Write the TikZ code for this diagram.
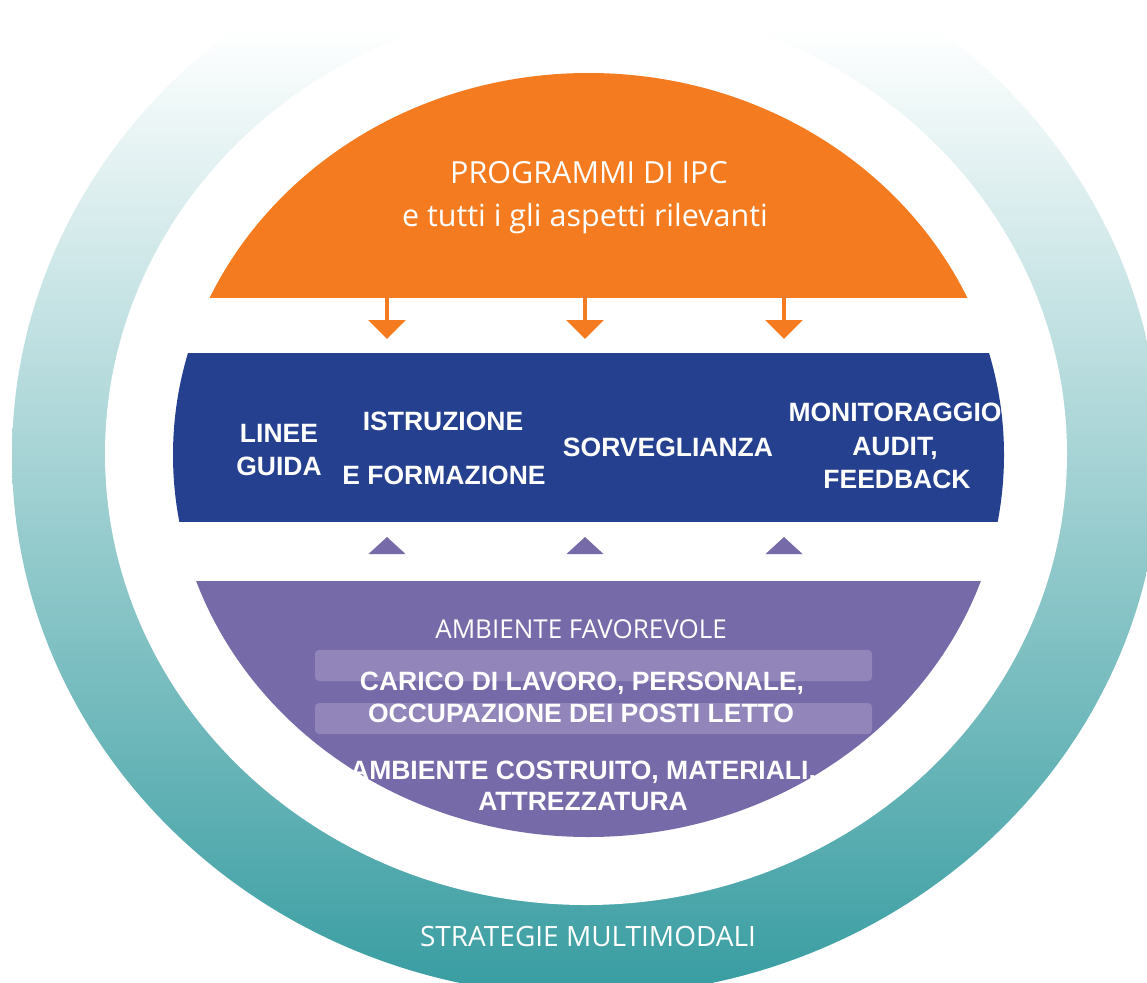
\documentclass[tikz,border=0pt]{standalone}
\usepackage{fontspec}
\usepackage{xcolor}
\usepackage{tikz}
\usetikzlibrary{arrows.meta}
\setmainfont{Open Sans}
\newfontfamily\arialfont{Liberation Sans}

\definecolor{ipcorange}{RGB}{244,123,32}
\definecolor{ipcblue}{RGB}{37,64,143}
\definecolor{ipcpurple}{RGB}{119,106,168}
\definecolor{ipcbar}{RGB}{145,133,186}
\definecolor{ipcteal}{RGB}{58,158,162}
\definecolor{ipctealmid}{RGB}{138,189,193}

\tikzset{
  thintext/.style={text=white, anchor=base, font=\fontsize{30.5}{36}\selectfont},
  boldtext/.style={text=white, anchor=base, font=\arialfont\bfseries\fontsize{26.5}{32}\selectfont},
  downarrow/.style={ipcorange, line width=4pt, -{Triangle[width=37pt,length=19pt]}},
}

\begin{document}
\begin{tikzpicture}[x=1pt,y=-1pt]
    \useasboundingbox (0,0) rectangle (1147,982);
    \clip (0,0) rectangle (1147,982);

    % Draw the outer ring, teal at the bottom and fading out at the top
    \begin{scope}
        \clip (586,456) ellipse [x radius=574, y radius=540];
        \shade[top color=white, middle color=ipctealmid, bottom color=ipcteal] (0,28) rectangle (1147,982);
    \end{scope}
    \fill[white] (586,454) ellipse [x radius=481, y radius=451];

    % Draw the orange cap
    \begin{scope}
        \clip (0,0) rectangle (1147,297);
        \fill[ipcorange] (588.5,455) ellipse [x radius=415.5, y radius=382];
    \end{scope}

    % Draw the blue band
    \begin{scope}
        \clip (0,353) rectangle (1147,521);
        \fill[ipcblue] (588.5,455) ellipse [x radius=415.5, y radius=382];
    \end{scope}

    % Draw the purple bottom with its two lighter bars
    \begin{scope}
        \clip (0,581) rectangle (1147,982);
        \fill[ipcpurple] (588.5,455) ellipse [x radius=415.5, y radius=382];
    \end{scope}
    \fill[ipcbar, rounded corners=4pt] (315,650) rectangle (872,681);
    \fill[ipcbar, rounded corners=4pt] (315,703) rectangle (872,734);

    % Arrows down from the orange cap and small triangles under the band
    \foreach \x [count=\i] in {387,585,784} {
        \coordinate (down\i) at (\x,296);
        \coordinate (tip\i) at (\x,339);
        \draw[downarrow] (down\i) -- (tip\i);
        \fill[ipcpurple] (\x,537) -- (\x+18.5,554) -- (\x-18.5,554) -- cycle;
    }

    % Texts of the orange cap
    \node[thintext] (prog) at (589,183) {PROGRAMMI DI IPC};
    \node[thintext] (aspetti) at (585,226) {e tutti i gli aspetti rilevanti};

    % Texts of the blue band
    \node[boldtext] (linee) at (279,442.5) {LINEE};
    \node[boldtext] (guida) at (279,475.5) {GUIDA};
    \node[boldtext] (istruz) at (443,430.5) {ISTRUZIONE};
    \node[boldtext] (formaz) at (444,484.5) {E FORMAZIONE};
    \node[boldtext] (sorv) at (668,456.5) {SORVEGLIANZA};
    \node[boldtext] (monit) at (895,421.5) {MONITORAGGIO};
    \node[boldtext] (audit) at (895,455.5) {AUDIT,};
    \node[boldtext] (feedb) at (897,488.5) {FEEDBACK};

    % Texts of the purple bottom
    \node[thintext, font=\fontsize{26}{32}\selectfont] (favor) at (581,638) {AMBIENTE FAVOREVOLE};
    \node[boldtext] (carico) at (582,690.5) {CARICO DI LAVORO, PERSONALE,};
    \node[boldtext] (occup) at (581,722.5) {OCCUPAZIONE DEI POSTI LETTO};
    \node[boldtext] (costr) at (583,779.5) {AMBIENTE COSTRUITO, MATERIALI,};
    \node[boldtext] (attrez) at (583,810.5) {ATTREZZATURA};

    % Text of the ring
    \node[thintext, font=\fontsize{28}{34}\selectfont] (strat) at (588,946) {STRATEGIE MULTIMODALI};
\end{tikzpicture}
\end{document}
